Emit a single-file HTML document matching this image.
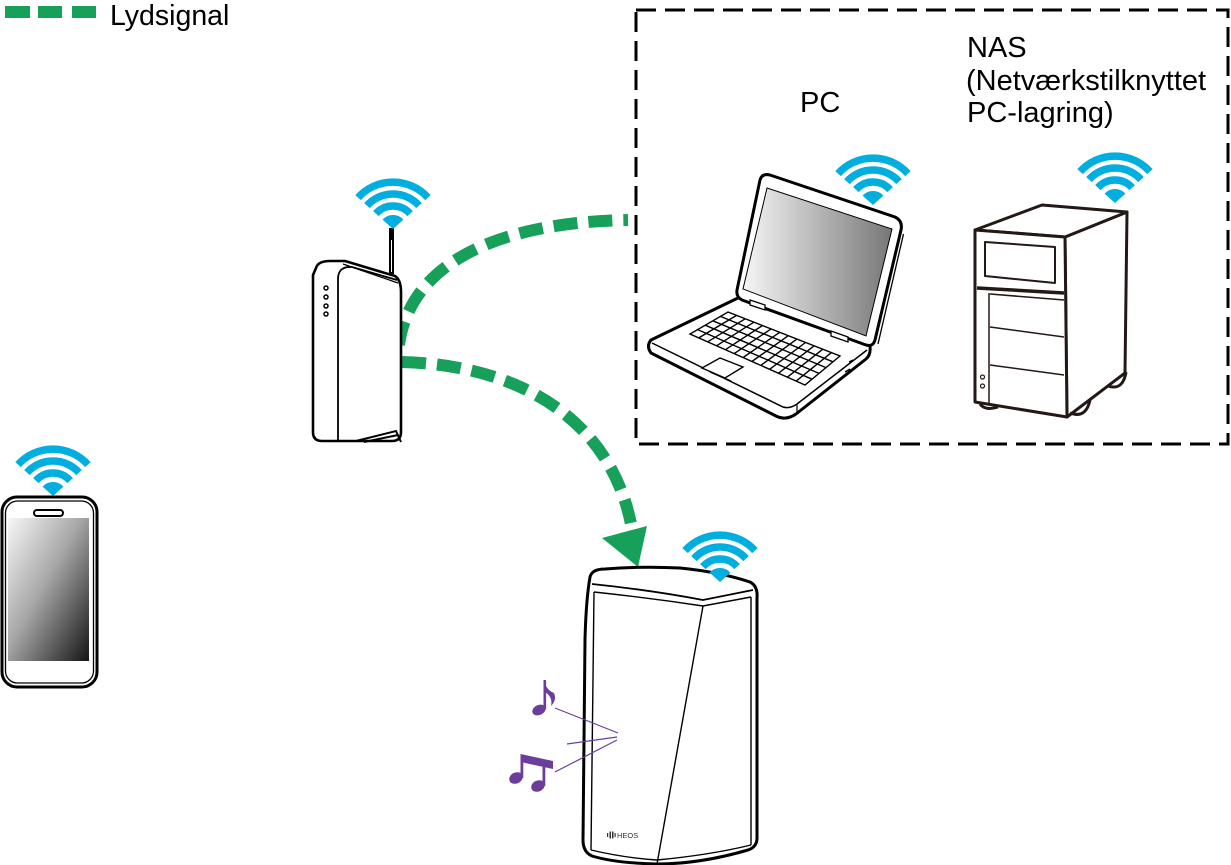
<!DOCTYPE html>
<html><head><meta charset="utf-8"><style>
html,body{margin:0;padding:0;background:#fff;}
svg{display:block;}
text{font-family:"Liberation Sans",Arial,sans-serif;fill:#000;}
</style></head><body>
<svg width="1231" height="865" viewBox="0 0 1231 865" xmlns="http://www.w3.org/2000/svg">
<defs>
  <g id="wifi" fill="none" stroke="#00AEDF" stroke-width="7.5">
    <path d="M0,0 L-10.4,-9.4 A14,14 0 0 1 10.4,-9.4 Z" fill="#00AEDF" stroke="none"/>
    <path d="M-17.1,-15.4 A23,23 0 0 1 17.1,-15.4"/>
    <path d="M-26,-23.4 A35,35 0 0 1 26,-23.4"/>
    <path d="M-34.9,-31.4 A47,47 0 0 1 34.9,-31.4"/>
  </g>
  <linearGradient id="phoneG" x1="0" y1="0" x2="1" y2="1">
    <stop offset="0" stop-color="#f7f7f7"/>
    <stop offset="0.45" stop-color="#a8a8a8"/>
    <stop offset="1" stop-color="#151515"/>
  </linearGradient>
  <linearGradient id="lapG" x1="0" y1="0" x2="1" y2="0">
    <stop offset="0" stop-color="#f6f6f6"/>
    <stop offset="1" stop-color="#777"/>
  </linearGradient>
</defs>

<!-- Legend -->
<rect x="5" y="6" width="25" height="12" fill="#17A05A"/>
<rect x="38" y="6" width="24" height="12" fill="#17A05A"/>
<rect x="72" y="6" width="24" height="12" fill="#17A05A"/>
<text x="110" y="25" font-size="28.5">Lydsignal</text>

<!-- Dashed box -->
<rect x="636" y="10" width="592" height="434" fill="none" stroke="#000" stroke-width="3" stroke-dasharray="20 9"/>

<!-- Labels -->
<text x="800" y="112" font-size="29">PC</text>
<text x="967" y="57" font-size="29">NAS</text>
<text x="966" y="90" font-size="29">(Netværkstilknyttet</text>
<text x="967" y="122" font-size="29">PC-lagring)</text>

<!-- Green dashed curves -->
<path d="M399,345 C410,262 500,222 628,220" fill="none" stroke="#17A05A" stroke-width="12" stroke-dasharray="24 11"/>
<path d="M402,362 C520,365 610,420 631,524" fill="none" stroke="#17A05A" stroke-width="12" stroke-dasharray="24 11"/>
<polygon points="602,538 647,526 638,567" fill="#17A05A"/>

<!-- Router -->
<rect x="389" y="228" width="5" height="46" fill="#000"/>
<line x1="391.5" y1="240" x2="391.5" y2="272" stroke="#fff" stroke-width="1"/>
<path d="M316,268 Q318,261 330,261 L345,261 L395,276 Q401,280 401,292 L401,432 Q401,441 392,441 L322,441 Q313,441 313,432 L313,275 Z" fill="#fff" stroke="#000" stroke-width="2.6" stroke-linejoin="round"/>
<path d="M338,440 L338,279 Q338,266 352,267 L397,280" fill="none" stroke="#000" stroke-width="1.8"/>
<path d="M343,264 L398,283" fill="none" stroke="#000" stroke-width="1.2"/>
<path d="M356,441 L396,431 L401,442 M364,442 L398,435" fill="none" stroke="#000" stroke-width="2"/>
<g fill="#fff" stroke="#000" stroke-width="1.5">
  <circle cx="326" cy="288" r="2"/><circle cx="326" cy="297" r="2"/>
  <circle cx="326" cy="306" r="2"/><circle cx="326" cy="314" r="2"/>
</g>
<use href="#wifi" x="393" y="229"/>

<!-- Phone -->
<rect x="2" y="497" width="95" height="190" rx="15" fill="#fff" stroke="#000" stroke-width="3"/>
<rect x="5.5" y="501" width="88" height="182" rx="12" fill="none" stroke="#000" stroke-width="1.3"/>
<rect x="8" y="518" width="81" height="143" fill="url(#phoneG)"/>
<rect x="34" y="510" width="29" height="6" rx="3" fill="#fff" stroke="#000" stroke-width="2"/>
<use href="#wifi" x="53" y="496"/>

<!-- Laptop -->
<path d="M740,297 L651,340 Q646,346 651,353 L776,416 Q786,421 796,414 L866,359 Q871,355 870,346 L868,343 Z" fill="#fff" stroke="#000" stroke-width="3" stroke-linejoin="round"/>
<path d="M652,343 L783,407 Q790,409 797,404 L867,350" fill="none" stroke="#000" stroke-width="1.5"/>
<path d="M797,404 L797,414 M801,410 L862,362" fill="none" stroke="#000" stroke-width="1.2"/>
<path d="M760,180 Q762,173 770,175 L895,217 Q903,221 901,230 L875,340 Q873,347 866,345 L742,300 Q736,297 737,290 Z" fill="#fff" stroke="#000" stroke-width="3" stroke-linejoin="round"/>
<polygon points="767,188 892,229 866,336 743,289" fill="url(#lapG)" stroke="#000" stroke-width="1"/>
<path d="M903.5,234 L878,344" fill="none" stroke="#000" stroke-width="1.3"/>
<polygon points="750,300 765,305 765,310 750,305" fill="#fff" stroke="#000" stroke-width="1.3"/>
<polygon points="831,331 848,337 848,342 831,336" fill="#fff" stroke="#000" stroke-width="1.3"/>
<!-- keyboard -->
<g fill="none" stroke="#000" stroke-width="1.4">
  <polygon points="728,312 840,356 805,385 690,334" fill="#fff"/>
  <line x1="720.4" y1="316.4" x2="833" y2="361.8"/>
  <line x1="712.8" y1="320.8" x2="826" y2="367.6"/>
  <line x1="705.2" y1="325.2" x2="819" y2="373.4"/>
  <line x1="697.6" y1="329.6" x2="812" y2="379.2"/>
  <line x1="736.6" y1="315.4" x2="698.8" y2="337.9"/>
  <line x1="745.2" y1="318.8" x2="707.7" y2="341.8"/>
  <line x1="753.8" y1="322.2" x2="716.5" y2="345.8"/>
  <line x1="762.5" y1="325.5" x2="725.4" y2="349.7"/>
  <line x1="771.1" y1="328.9" x2="734.2" y2="353.6"/>
  <line x1="779.7" y1="332.3" x2="743.1" y2="357.5"/>
  <line x1="788.3" y1="335.7" x2="751.9" y2="361.5"/>
  <line x1="796.9" y1="339.1" x2="760.8" y2="365.4"/>
  <line x1="805.5" y1="342.5" x2="769.6" y2="369.3"/>
  <line x1="814.2" y1="345.8" x2="778.5" y2="373.2"/>
  <line x1="822.8" y1="349.2" x2="787.3" y2="377.2"/>
  <line x1="831.4" y1="352.6" x2="796.2" y2="381.1"/>
  <polygon points="702,368 720,358 743,367 725,378" fill="#fff"/>
  <line x1="710" y1="372" x2="731" y2="381"/>
  <path d="M849,362 L853,360 M845,372 L850,369"/>
</g>
<use href="#wifi" x="873" y="205"/>

<!-- NAS -->
<g stroke="#231815" stroke-linejoin="round" fill="#fff">
  <polygon points="1065,237 1127,212 1125,373 1067,417" stroke-width="3"/>
  <polygon points="975,230 1042,205 1127,212 1065,237" stroke-width="3"/>
  <polygon points="975,230 1065,237 1067,417 975,402" stroke-width="3"/>
  <polygon points="985,242 1055,247 1055,283 985,276" stroke-width="2"/>
  <line x1="977" y1="288" x2="1064" y2="293" stroke-width="3.5"/>
  <line x1="989" y1="293" x2="989" y2="403" stroke-width="1.5"/>
  <line x1="990" y1="294" x2="1064" y2="300" stroke-width="1.5"/>
  <line x1="990" y1="327" x2="1064" y2="337" stroke-width="1.5"/>
  <line x1="990" y1="365" x2="1064" y2="375" stroke-width="1.5"/>
  <circle cx="982.5" cy="377" r="2" stroke-width="1.2"/>
  <circle cx="982.5" cy="386" r="2" stroke-width="1.2"/>
  <path d="M980,404 Q985,411 998,407" fill="none" stroke-width="3"/>
  <path d="M1070,413 Q1086,419 1090,400" fill="none" stroke-width="3"/>
  <path d="M1108,386 Q1123,391 1126,372" fill="none" stroke-width="3"/>
</g>
<use href="#wifi" x="1115" y="203"/>

<!-- Speaker -->
<path d="M590,577 Q592,569 605,569 Q640,566 680,568 Q720,572 750,582 Q758,586 757,598 L757,838 Q757,847 748,850 Q700,864 657,864 Q615,863 592,856 Q583,852 583,840 L585,640 Q586,600 590,577 Z" fill="#fff" stroke="#000" stroke-width="3" stroke-linejoin="round"/>
<g fill="none" stroke="#000">
  <path d="M592,584 Q650,590 703,600 L753,590" stroke-width="1.8"/>
  <path d="M594,592 Q650,598 703,606 L751,597" stroke-width="1.4"/>
  <path d="M594,592 L591,850" stroke-width="1.4"/>
  <path d="M751,597 L751,845" stroke-width="1.4"/>
  <path d="M703,606 L657,864" stroke-width="1.4"/>
  <path d="M591,850 Q625,858 657,860 Q710,855 751,845" stroke-width="1.4"/>
</g>
<g fill="#333">
  <rect x="607" y="833" width="1.2" height="4"/>
  <rect x="609.5" y="831.5" width="1.5" height="7"/>
  <rect x="612" y="831.5" width="1.5" height="7"/>
  <rect x="614.5" y="833" width="1.2" height="4"/>
</g>
<text x="617" y="838" font-size="7.5" style="fill:#333">HEOS</text>
<use href="#wifi" x="720" y="582"/>

<!-- Music notes -->
<g fill="#6C3D9A">
  <ellipse cx="539" cy="710" rx="7" ry="5" transform="rotate(-25 539 710)"/>
  <rect x="543.5" y="680" width="2.6" height="29"/>
  <path d="M544,680 Q546,690 554,693 Q557,700 551,706 Q553,697 545,692 Z"/>
  <ellipse cx="516" cy="778" rx="7" ry="5.5" transform="rotate(-25 516 778)"/>
  <ellipse cx="538" cy="786" rx="7" ry="5.5" transform="rotate(-25 538 786)"/>
  <rect x="520.5" y="756" width="2.8" height="22"/>
  <rect x="542.5" y="763" width="2.8" height="23"/>
  <polygon points="520.5,754 553,761 553,769 520.5,762"/>
</g>
<g stroke="#6C3D9A" stroke-width="1.2">
  <line x1="555" y1="708" x2="618" y2="733"/>
  <line x1="567" y1="744" x2="617" y2="737"/>
  <line x1="555" y1="772" x2="617" y2="740"/>
</g>
</svg>
</body></html>
